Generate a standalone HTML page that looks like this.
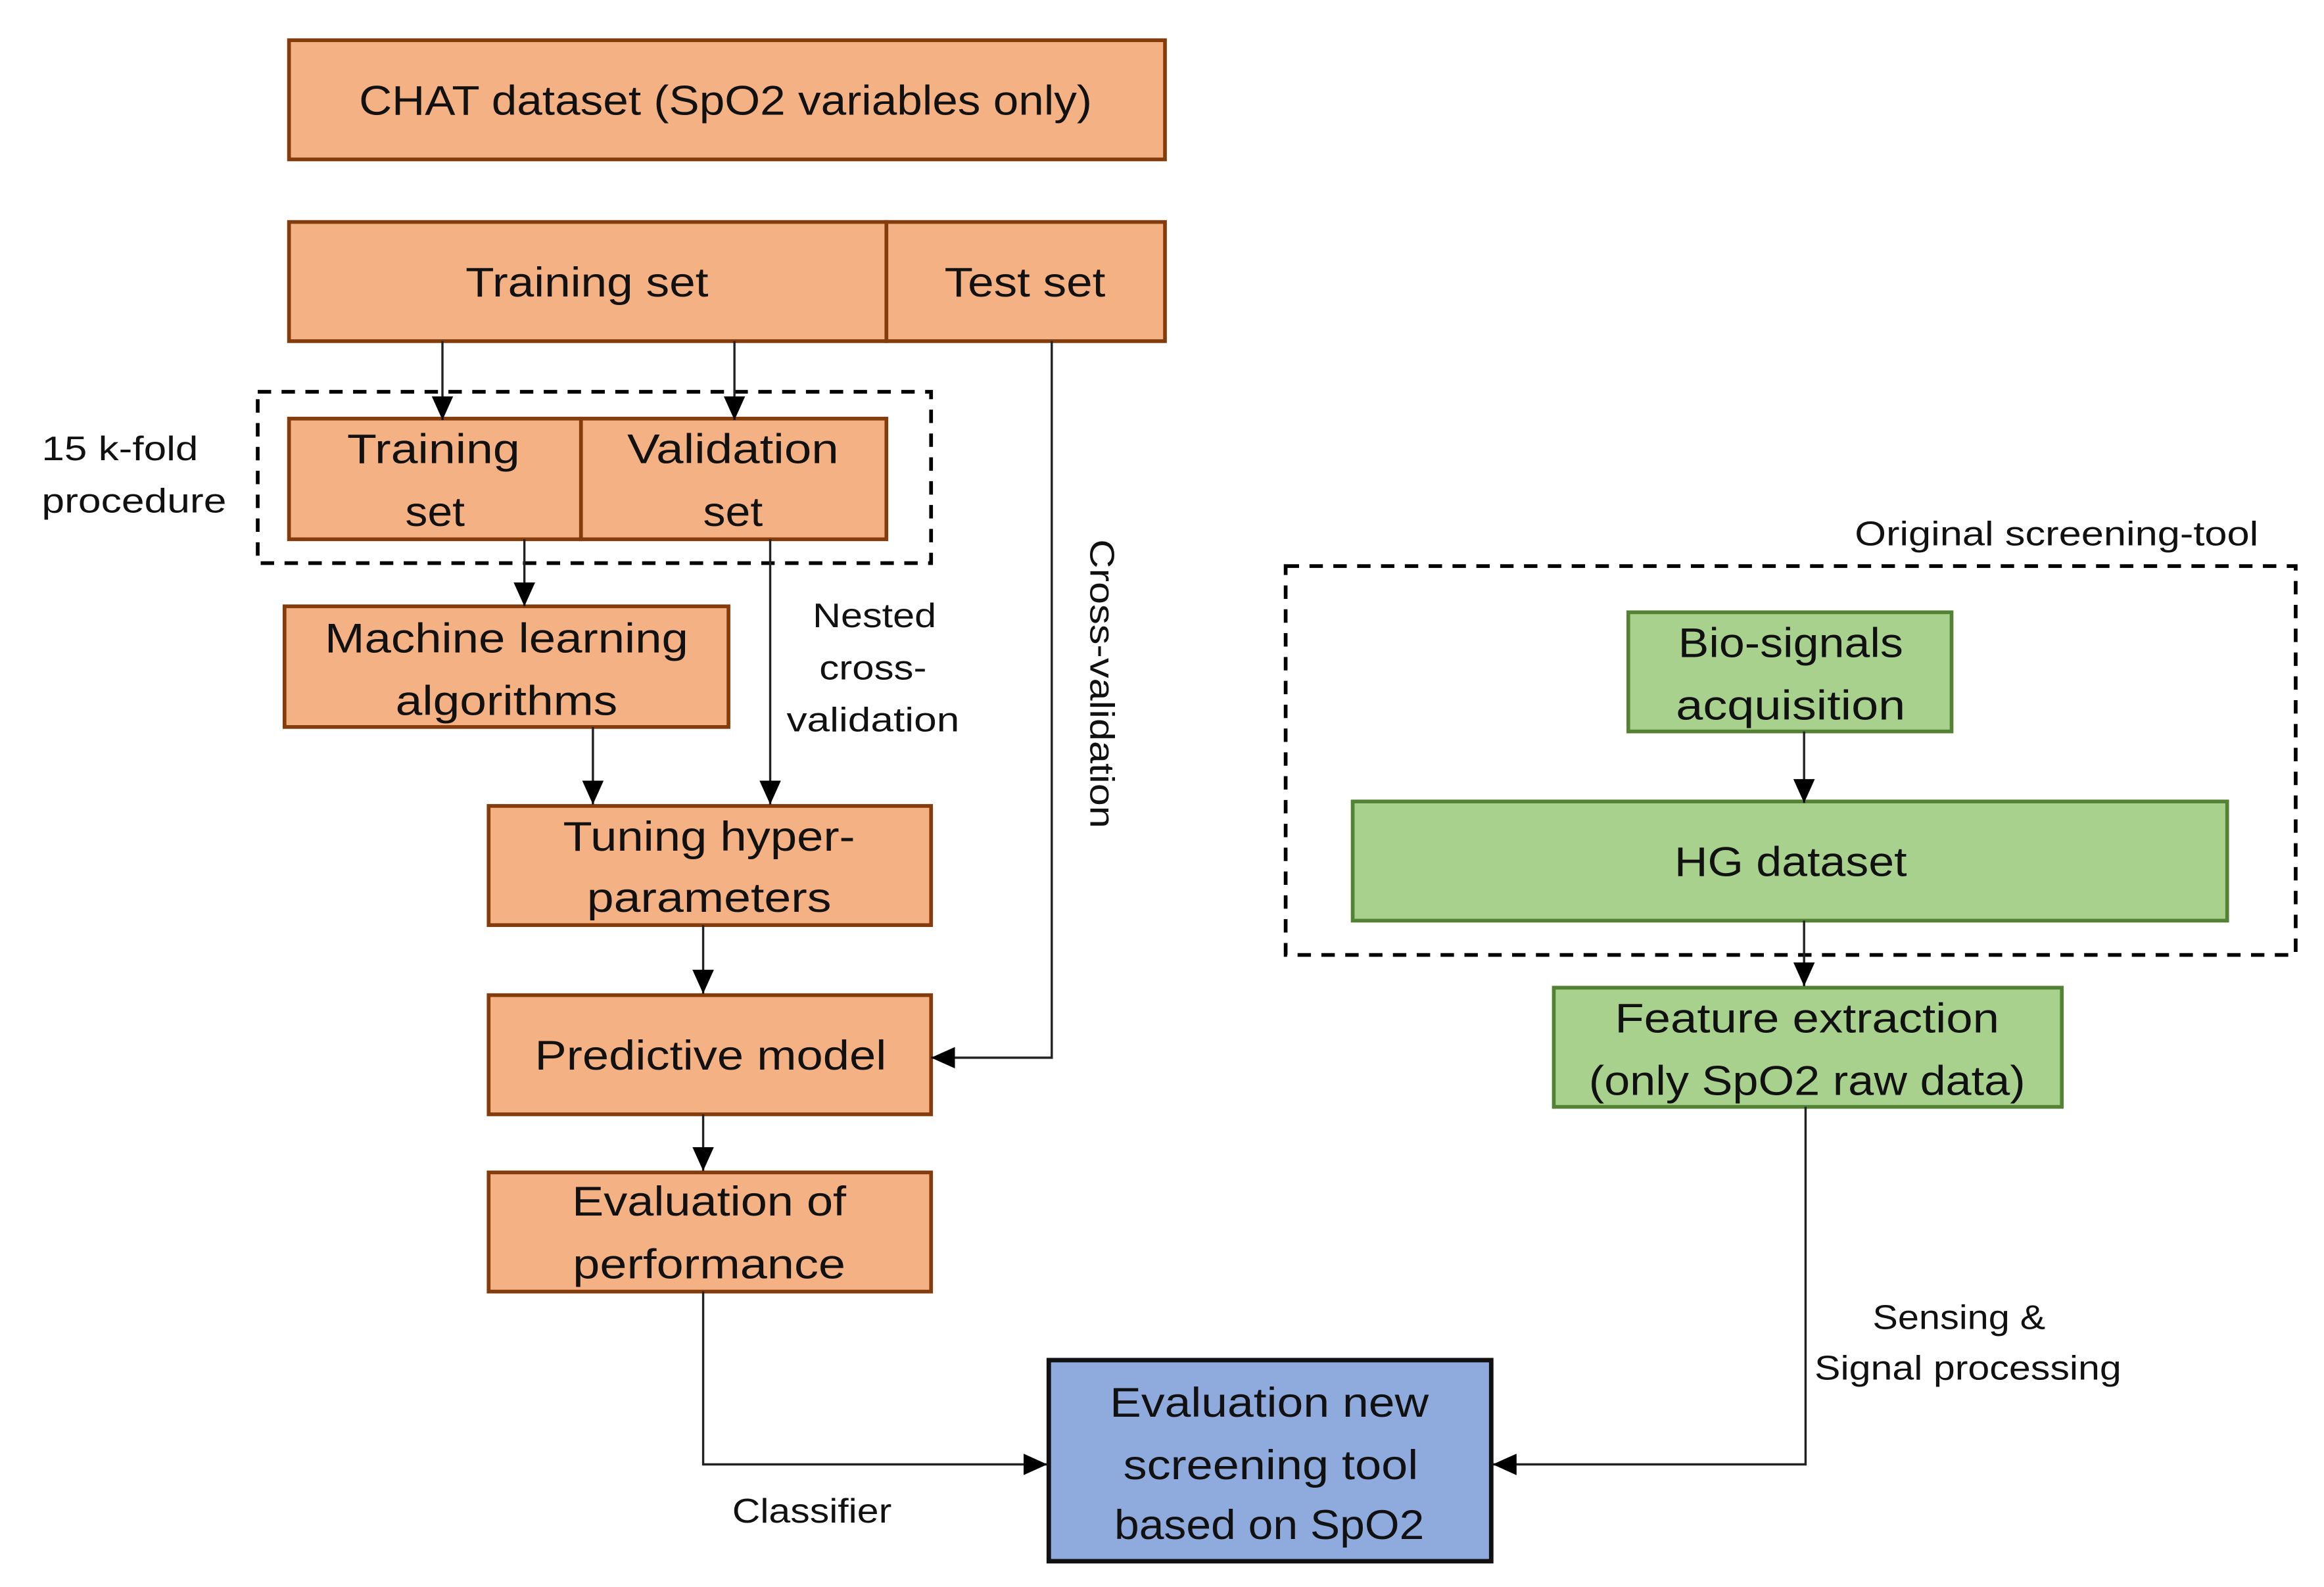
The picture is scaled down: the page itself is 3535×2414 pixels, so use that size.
<!DOCTYPE html>
<html><head><meta charset="utf-8"><style>
html,body{margin:0;padding:0;background:#fff;}
svg{display:block;}
text{font-family:"Liberation Sans",sans-serif;fill:#111;}
</style></head><body>
<svg width="3535" height="2414" viewBox="0 0 1560 1065.3" preserveAspectRatio="none" xmlns="http://www.w3.org/2000/svg">
<defs>
<marker id="ahL" viewBox="0 0 10 10" refX="10" refY="5" markerWidth="16" markerHeight="16" markerUnits="userSpaceOnUse" orient="auto">
<path d="M0,0.5 L10,5 L0,9.5 z" fill="#000"/>
</marker>
</defs>
<rect width="1560" height="1066" fill="#fff"/>

<g fill="#f4b183" stroke="#843c0c" stroke-width="2.5">
<rect x="194" y="27" width="588" height="80"/>
<rect x="194" y="149" width="401" height="80"/>
<rect x="595" y="149" width="187" height="80"/>
<rect x="194" y="281" width="196" height="81"/>
<rect x="390" y="281" width="205" height="81"/>
<rect x="191" y="407" width="298" height="81"/>
<rect x="328" y="541" width="297" height="80"/>
<rect x="328" y="668" width="297" height="80"/>
<rect x="328" y="787" width="297" height="80"/>
</g>
<g fill="#a9d18e" stroke="#548235" stroke-width="2.5">
<rect x="1093" y="411" width="217" height="80"/>
<rect x="908" y="538" width="587" height="80"/>
<rect x="1043" y="663" width="341" height="80"/>
</g>
<rect x="704" y="913" width="297" height="135" fill="#8faadc" stroke="#111" stroke-width="3"/>

<g fill="none" stroke="#000" stroke-width="2.5" stroke-dasharray="9,7">
<rect x="173" y="263" width="452" height="115"/>
<rect x="863" y="380" width="678" height="261"/>
</g>

<g stroke="#222" stroke-width="1.5" fill="none">
<line x1="297" y1="229" x2="297" y2="282" marker-end="url(#ahL)"/>
<line x1="493" y1="229" x2="493" y2="282" marker-end="url(#ahL)"/>
<line x1="352" y1="362" x2="352" y2="407" marker-end="url(#ahL)"/>
<line x1="398" y1="488" x2="398" y2="540" marker-end="url(#ahL)"/>
<line x1="517" y1="362" x2="517" y2="540" marker-end="url(#ahL)"/>
<line x1="472" y1="621" x2="472" y2="667" marker-end="url(#ahL)"/>
<line x1="472" y1="748" x2="472" y2="786" marker-end="url(#ahL)"/>
<polyline points="706,229 706,710 625,710" marker-end="url(#ahL)"/>
<polyline points="472,867 472,983 703,983" marker-end="url(#ahL)"/>
<line x1="1211" y1="491" x2="1211" y2="539" marker-end="url(#ahL)"/>
<line x1="1211" y1="618" x2="1211" y2="662" marker-end="url(#ahL)"/>
<polyline points="1212,743 1212,983 1002,983" marker-end="url(#ahL)"/>
</g>

<g font-size="28" text-anchor="middle">
<text x="487" y="77" textLength="492" lengthAdjust="spacingAndGlyphs">CHAT dataset (SpO2 variables only)</text>
<text x="394" y="199" textLength="163" lengthAdjust="spacingAndGlyphs">Training set</text>
<text x="688" y="199" textLength="108" lengthAdjust="spacingAndGlyphs">Test set</text>
<text x="291" y="311" textLength="116" lengthAdjust="spacingAndGlyphs">Training</text>
<text x="292" y="353" textLength="40" lengthAdjust="spacingAndGlyphs">set</text>
<text x="492" y="311" textLength="142" lengthAdjust="spacingAndGlyphs">Validation</text>
<text x="492" y="353" textLength="40" lengthAdjust="spacingAndGlyphs">set</text>
<text x="340" y="438" textLength="244" lengthAdjust="spacingAndGlyphs">Machine learning</text>
<text x="340" y="480" textLength="149" lengthAdjust="spacingAndGlyphs">algorithms</text>
<text x="476" y="571" textLength="196" lengthAdjust="spacingAndGlyphs">Tuning hyper-</text>
<text x="476" y="612" textLength="164" lengthAdjust="spacingAndGlyphs">parameters</text>
<text x="477" y="718" textLength="236" lengthAdjust="spacingAndGlyphs">Predictive model</text>
<text x="476" y="816" textLength="184" lengthAdjust="spacingAndGlyphs">Evaluation of</text>
<text x="476" y="858" textLength="183" lengthAdjust="spacingAndGlyphs">performance</text>
<text x="852" y="951" textLength="214" lengthAdjust="spacingAndGlyphs">Evaluation new</text>
<text x="853" y="993" textLength="198" lengthAdjust="spacingAndGlyphs">screening tool</text>
<text x="852" y="1033" textLength="208" lengthAdjust="spacingAndGlyphs">based on SpO2</text>
<text x="1202" y="441" textLength="151" lengthAdjust="spacingAndGlyphs">Bio-signals</text>
<text x="1202" y="483" textLength="154" lengthAdjust="spacingAndGlyphs">acquisition</text>
<text x="1202" y="588" textLength="156" lengthAdjust="spacingAndGlyphs">HG dataset</text>
<text x="1213" y="693" textLength="258" lengthAdjust="spacingAndGlyphs">Feature extraction</text>
<text x="1213" y="735" textLength="293" lengthAdjust="spacingAndGlyphs">(only SpO2 raw data)</text>
</g>

<g font-size="23">
<text x="28" y="309" textLength="105" lengthAdjust="spacingAndGlyphs">15 k-fold</text>
<text x="28" y="344" textLength="124" lengthAdjust="spacingAndGlyphs">procedure</text>
<text x="587" y="421" text-anchor="middle" textLength="83" lengthAdjust="spacingAndGlyphs">Nested</text>
<text x="586" y="456" text-anchor="middle" textLength="72" lengthAdjust="spacingAndGlyphs">cross-</text>
<text x="586" y="491" text-anchor="middle" textLength="116" lengthAdjust="spacingAndGlyphs">validation</text>
<text x="1516" y="366" text-anchor="end" textLength="271" lengthAdjust="spacingAndGlyphs">Original screening-tool</text>
<text x="1315" y="892" text-anchor="middle" textLength="116" lengthAdjust="spacingAndGlyphs">Sensing &amp;</text>
<text x="1321" y="926" text-anchor="middle" textLength="206" lengthAdjust="spacingAndGlyphs">Signal processing</text>
<text x="545" y="1022" text-anchor="middle" textLength="107" lengthAdjust="spacingAndGlyphs">Classifier</text>
<text x="0" y="0" transform="translate(732,459) rotate(90)" text-anchor="middle" textLength="194" lengthAdjust="spacingAndGlyphs">Cross-validation</text>
</g>
</svg>
</body></html>
